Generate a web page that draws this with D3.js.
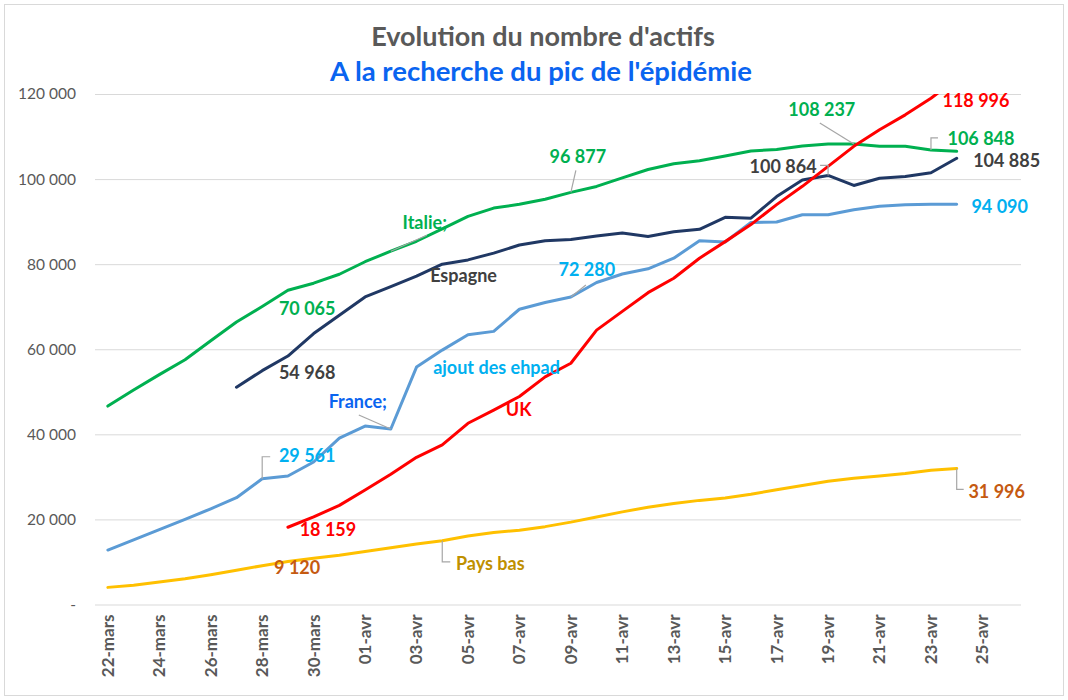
<!DOCTYPE html>
<html>
<head>
<meta charset="utf-8">
<script src="https://cdn.jsdelivr.net/npm/d3@7"></script>
<style>
  html, body { margin: 0; padding: 0; background: #fff; }
  text { font-family: Lato, "Open Sans", sans-serif; }
</style>
</head>
<body>
<div id="chart"></div>
<script>
"use strict";

// categories (one per day)
const dates = [
  "22-mars", "23-mars", "24-mars", "25-mars", "26-mars", "27-mars", "28-mars",
  "29-mars", "30-mars", "31-mars", "01-avr", "02-avr", "03-avr", "04-avr",
  "05-avr", "06-avr", "07-avr", "08-avr", "09-avr", "10-avr", "11-avr",
  "12-avr", "13-avr", "14-avr", "15-avr", "16-avr", "17-avr", "18-avr",
  "19-avr", "20-avr", "21-avr", "22-avr", "23-avr", "24-avr", "25-avr", "26-avr"
];

const italie = [46638, 50418, 54030, 57521, 62013, 66414, 70065, 73880, 75528, 77635,
  80572, 83049, 85388, 88274, 91246, 93187, 94067, 95262, 96877, 98273,
  100269, 102253, 103616, 104291, 105418, 106607, 106962, 107771, 108257, 108237,
  107709, 107699, 106848, 106527, null, null];

const espagne = [null, null, null, null, null, 51060, 54968, 58400, 63700, 68000,
  72300, 74700, 77200, 80000, 81000, 82600, 84500, 85500, 85800, 86600,
  87300, 86500, 87600, 88200, 91000, 90800, 95900, 99800, 100864, 98500,
  100200, 100600, 101500, 104885, null, null];

const france = [12800, 15200, 17600, 20000, 22500, 25100, 29561, 30200, 33500, 39100,
  41950, 41250, 55800, 59800, 63400, 64200, 69400, 71000, 72280, 75700,
  77700, 78900, 81400, 85500, 85200, 89800, 89900, 91600, 91600, 92800,
  93600, 93950, 94100, 94090, null, null];

const uk = [null, null, null, null, null, null, null, 18159, 20600, 23300,
  26900, 30600, 34600, 37500, 42600, 45700, 48900, 53500, 56700, 64500,
  68900, 73300, 76700, 81400, 85300, 89300, 94000, 98300, 103000, 107700,
  111600, 115100, 118996, 123600, null, null];

const paysBas = [4025, 4536, 5284, 6056, 6997, 8057, 9120, 10095, 10886, 11556,
  12441, 13358, 14236, 14976, 16085, 16936, 17479, 18301, 19366, 20586,
  21770, 22850, 23728, 24474, 25019, 25899, 26990, 27988, 28971, 29654,
  30218, 30788, 31552, 31996, null, null];

const yTicks = [0, 20000, 40000, 60000, 80000, 100000, 120000];

const series = [
  { name: "Pays bas", values: paysBas, color: "#FFC000" },
  { name: "Italie", values: italie, color: "#00B050" },
  { name: "Espagne", values: espagne, color: "#203864" },
  { name: "France", values: france, color: "#5B9BD5" },
  { name: "UK", values: uk, color: "#FF0000" }
];

// annotations: series, day index, text, colour, offset, leader path (relative to the point)
const notes = [
  { s: "Italie", i: 11, text: "Italie;", color: "#00B050", dx: 34, dy: -28, lead: [[0, 0], [36, -16]] },
  { s: "Italie", i: 6, text: "70 065", color: "#00B050", dx: 45, dy: 2 },
  { s: "Italie", i: 18, text: "96 877", color: "#00B050", dx: 7, dy: -36, lead: [[0, 0], [5, -22]] },
  { s: "Italie", i: 29, text: "108 237", color: "#00B050", dx: -32, dy: -34, lead: [[0, 0], [-34, -21]] },
  { s: "Italie", i: 32, text: "106 848", color: "#00B050", dx: 50, dy: -11, lead: [[0, 0], [0, -12], [7, -12]] },
  { s: "Espagne", i: 6, text: "54 968", color: "#404040", dx: 45, dy: 2 },
  { s: "Espagne", i: 12, text: "Espagne", color: "#404040", dx: 47, dy: 0 },
  { s: "Espagne", i: 28, text: "100 864", color: "#404040", dx: -45, dy: -9, lead: [[0, 0], [0, -10], [-8, -10]] },
  { s: "Espagne", i: 33, text: "104 885", color: "#404040", dx: 50, dy: 2 },
  { s: "France", i: 6, text: "29 561", color: "#00B0F0", dx: 45, dy: -23, lead: [[0, 0], [0, -22], [8, -22]] },
  { s: "France", i: 11, text: "France;", color: "#0A64F0", dx: -33, dy: -27, lead: [[0, 0], [-32, -14]] },
  { s: "France", i: 12, text: "ajout des ehpad", color: "#00B0F0", dx: 80, dy: 1 },
  { s: "France", i: 18, text: "72 280", color: "#00B0F0", dx: 16, dy: -27, lead: [[0, 0], [15, -12]] },
  { s: "France", i: 33, text: "94 090", color: "#00B0F0", dx: 43, dy: 2 },
  { s: "UK", i: 7, text: "18 159", color: "#FF0000", dx: 40, dy: 2 },
  { s: "UK", i: 15, text: "UK", color: "#FF0000", dx: 25, dy: 0 },
  { s: "UK", i: 32, text: "118 996", color: "#FF0000", dx: 45, dy: 2 },
  { s: "Pays bas", i: 6, text: "9 120", color: "#C55A11", dx: 35, dy: 2 },
  { s: "Pays bas", i: 13, text: "Pays bas", color: "#BF9000", dx: 48, dy: 23, lead: [[0, 0], [0, 21], [8, 21]] },
  { s: "Pays bas", i: 33, text: "31 996", color: "#C55A11", dx: 40, dy: 23, lead: [[0, 0], [0, 21], [7, 21]] }
];

const width = 1068, height = 700;
const plot = { left: 95, right: 1021, top: 94, bottom: 604.5 };

const svg = d3.select("#chart").append("svg")
  .attr("width", width)
  .attr("height", height);

svg.append("rect")
  .attr("x", 4.5).attr("y", 4.5)
  .attr("width", 1059).attr("height", 691)
  .attr("fill", "#fff")
  .attr("stroke", "#d9d9d9");

// scales
const xBand = d3.scaleBand().domain(dates).range([plot.left, plot.right]);
const x = (d) => xBand(d) + xBand.bandwidth() / 2;
const y = d3.scaleLinear().domain([0, 120000]).range([plot.bottom, plot.top]);

// titles
svg.append("text")
  .attr("x", 543).attr("y", 46)
  .attr("text-anchor", "middle")
  .attr("font-size", 27).attr("font-weight", "bold")
  .attr("fill", "#595959")
  .text("Evolution du nombre d'actifs");

svg.append("text")
  .attr("x", 541).attr("y", 81)
  .attr("text-anchor", "middle")
  .attr("font-size", 27.5).attr("font-weight", "bold")
  .attr("fill", "#0A64F0")
  .text("A la recherche du pic de l'épidémie");

// y grid + labels
const yAxis = svg.append("g")
  .attr("transform", "translate(" + plot.left + ",0)")
  .call(d3.axisLeft(y)
    .tickValues(yTicks)
    .tickSize(-(plot.right - plot.left))
    .tickPadding(19)
    .tickFormat((d) => d === 0 ? "-" : d3.format(",")(d).replace(/,/g, " ")));
yAxis.select(".domain").remove();
yAxis.selectAll(".tick line").attr("stroke", "#d9d9d9");
yAxis.selectAll(".tick text")
  .attr("font-family", "Lato, sans-serif")
  .attr("font-size", 15.5)
  .attr("fill", "#595959");

// x labels (every other day)
const xAxis = svg.append("g")
  .attr("transform", "translate(0," + plot.bottom + ")")
  .call(d3.axisBottom(xBand)
    .tickValues(dates.filter((d, i) => i % 2 === 0))
    .tickSize(0)
    .tickPadding(0));
xAxis.select(".domain").remove();
xAxis.selectAll(".tick text")
  .attr("font-family", "DejaVu Sans, sans-serif")
  .attr("font-weight", "bold")
  .attr("font-size", 17)
  .attr("fill", "#595959")
  .attr("text-anchor", "end")
  .attr("transform", "rotate(-90)")
  .attr("x", -10)
  .attr("y", 0)
  .attr("dy", "0.35em");

// lines, clipped to the plot area
svg.append("clipPath").attr("id", "plot-clip")
  .append("rect")
  .attr("x", plot.left - 10).attr("y", plot.top)
  .attr("width", plot.right - plot.left + 20)
  .attr("height", plot.bottom - plot.top + 10);

const line = d3.line()
  .defined((d) => d != null)
  .x((d, i) => x(dates[i]))
  .y((d) => y(d));

svg.append("g")
  .attr("clip-path", "url(#plot-clip)")
  .selectAll("path")
  .data(series)
  .enter()
  .append("path")
  .attr("d", (d) => line(d.values))
  .attr("fill", "none")
  .attr("stroke", (d) => d.color)
  .attr("stroke-width", 3)
  .attr("stroke-linejoin", "round")
  .attr("stroke-linecap", "round");

// data labels + leader lines
const byName = {};
series.forEach((s) => { byName[s.name] = s; });
const pointOf = (n) => [x(dates[n.i]), y(byName[n.s].values[n.i])];

svg.append("g")
  .selectAll("path")
  .data(notes.filter((n) => n.lead))
  .enter()
  .append("path")
  .attr("d", (n) => {
    const p = pointOf(n);
    return d3.line()(n.lead.map((q) => [p[0] + q[0], p[1] + q[1]]));
  })
  .attr("fill", "none")
  .attr("stroke", "#A6A6A6")
  .attr("stroke-width", 1.2);

svg.append("g")
  .selectAll("text")
  .data(notes)
  .enter()
  .append("text")
  .attr("x", (n) => pointOf(n)[0] + n.dx)
  .attr("y", (n) => pointOf(n)[1] + n.dy)
  .attr("dy", "0.35em")
  .attr("text-anchor", "middle")
  .attr("font-size", 18)
  .attr("font-weight", "bold")
  .attr("fill", (n) => n.color)
  .text((n) => n.text);
</script>
</body>
</html>
